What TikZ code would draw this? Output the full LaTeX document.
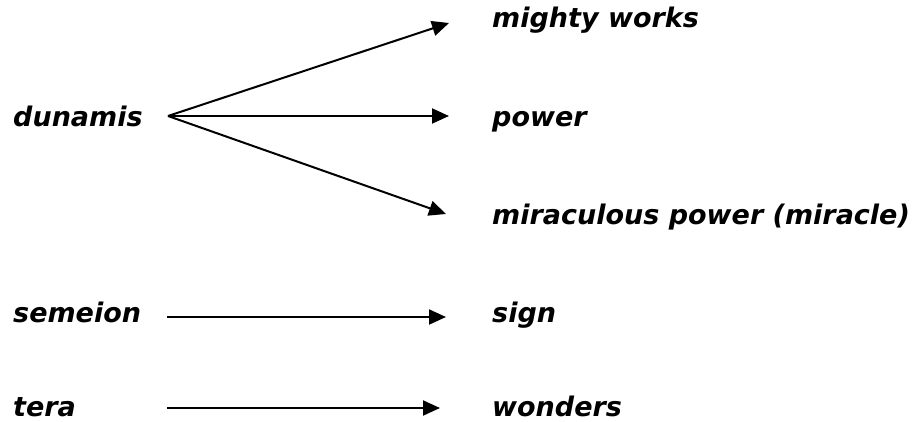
\documentclass[tikz,border=0pt]{standalone}
\usepackage{fontspec}
\setmainfont{DejaVu Sans}
\usetikzlibrary{arrows.meta}
\tikzset{
  word/.style={anchor=base west, inner sep=0pt, font=\fontsize{27}{32}\selectfont\bfseries\itshape},
  link/.style={line width=2pt, -{Triangle[length=17pt,width=15pt]}}
}
\begin{document}
\begin{tikzpicture}[x=1pt,y=-1pt]
  \useasboundingbox (0,0) rectangle (921,422);

  % Greek terms
  \node[word] (dunamis) at (13,127) {dunamis};
  \node[word] (semeion) at (13,322) {semeion};
  \node[word] (tera)    at (13,416) {tera};

  % English renderings
  \node[word] (mighty)  at (492,28)  {mighty works};
  \node[word] (power)   at (492,127) {power};
  \node[word] (miracle) at (492,225) {miraculous power (miracle)};
  \node[word] (sign)    at (492,322) {sign};
  \node[word] (wonders) at (492,416) {wonders};

  % arrow start and end points
  \coordinate (fork) at (168,116);
  \coordinate (toMighty)  at (449,23);
  \coordinate (toPower)   at (449,116);
  \coordinate (toMiracle) at (446,214);
  \coordinate (fromSemeion) at (167,317);
  \coordinate (toSign)      at (446,317);
  \coordinate (fromTera)    at (167,408);
  \coordinate (toWonders)   at (440,408);

  \draw[link] (fork) -- (toMighty);
  \draw[link] (fork) -- (toPower);
  \draw[link] (fork) -- (toMiracle);
  \draw[link] (fromSemeion) -- (toSign);
  \draw[link] (fromTera) -- (toWonders);
\end{tikzpicture}
\end{document}
